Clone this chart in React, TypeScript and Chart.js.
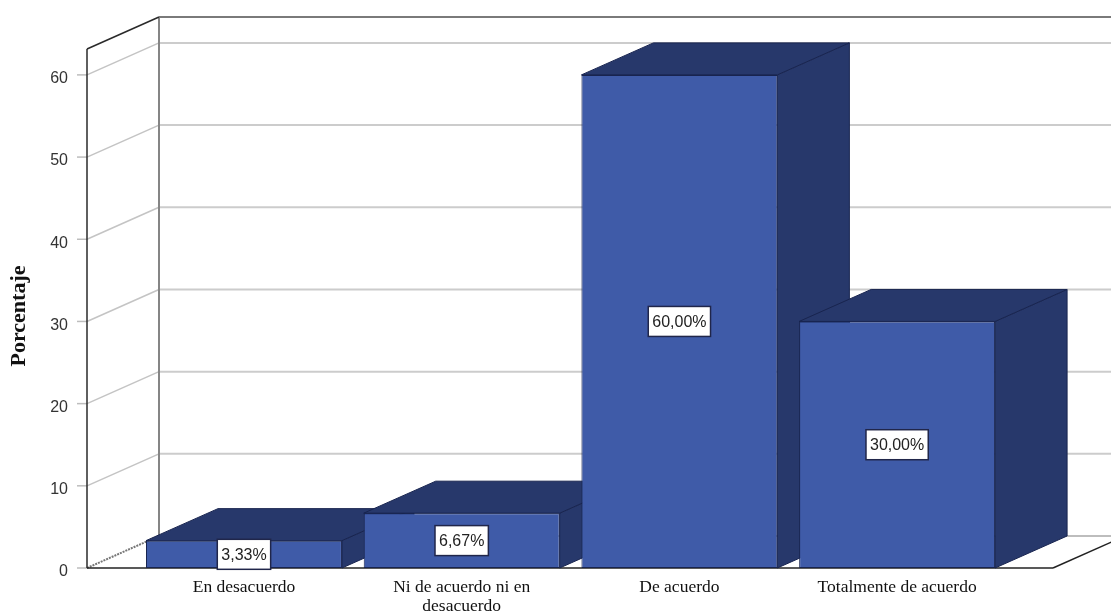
import React, { useEffect, useRef } from "react";
import { Chart, registerables } from "chart.js";

Chart.register(...registerables);

const categories: string[][] = [
  ["En desacuerdo"],
  ["Ni de acuerdo ni en", "desacuerdo"],
  ["De acuerdo"],
  ["Totalmente de acuerdo"],
];
const values: number[] = [3.33, 6.67, 60, 30];
const yTicks: number[] = [0, 10, 20, 30, 40, 50, 60];
const yTitle = "Porcentaje";

const FRONT = "#3f5ba8";
const DARK = "#27386b";
const EDGE = "#18244f";
const DX = 72;
const DY = -32;

function poly(ctx: CanvasRenderingContext2D, pts: number[][], fill: string, stroke: string) {
  ctx.beginPath();
  pts.forEach((p, i) => (i ? ctx.lineTo(p[0], p[1]) : ctx.moveTo(p[0], p[1])));
  ctx.closePath();
  ctx.fillStyle = fill;
  ctx.fill();
  ctx.lineWidth = 1;
  ctx.strokeStyle = stroke;
  ctx.stroke();
}

function seg(ctx: CanvasRenderingContext2D, x1: number, y1: number, x2: number, y2: number, color: string, w: number, dash: number[] = []) {
  ctx.beginPath();
  ctx.setLineDash(dash);
  ctx.moveTo(x1, y1);
  ctx.lineTo(x2, y2);
  ctx.strokeStyle = color;
  ctx.lineWidth = w;
  ctx.stroke();
  ctx.setLineDash([]);
}

const box3d = {
  id: "box3d",
  beforeDatasetsDraw(chart: any) {
    const { ctx, chartArea: a, scales, width } = chart;
    const y = scales.y;
    const bottom = y.getPixelForValue(0);
    ctx.save();
    // walls and gridlines
    yTicks.forEach((t) => {
      const py = y.getPixelForValue(t);
      seg(ctx, a.left - 10, py, a.left, py, "#bdbdbd", 1.5);
      if (t === 0) {
        seg(ctx, a.left, py, a.left + DX, py + DY, "#777777", 2, [2, 1]);
        seg(ctx, a.left + DX, py + DY, width, py + DY, "#bdbdbd", 2);
      } else {
        seg(ctx, a.left, py, a.left + DX, py + DY, "#c4c4c4", 1.5);
        seg(ctx, a.left + DX, py + DY, width, py + DY, "#cccccc", 2);
      }
    });
    seg(ctx, a.left + DX, a.top + DY, width, a.top + DY, "#7a7a7a", 2);
    seg(ctx, a.left + DX, a.top + DY, a.left + DX, bottom + DY, "#858585", 2);
    seg(ctx, a.left, a.top, a.left + DX, a.top + DY, "#2a2a2a", 1.5);
    seg(ctx, a.left, a.top, a.left, bottom, "#2a2a2a", 1.5);
    seg(ctx, a.right, bottom, a.right + DX, bottom + DY, "#222222", 1.5);
    seg(ctx, a.left, bottom, a.right, bottom, "#222222", 1.5);
    // side and top faces, left to right
    chart.getDatasetMeta(0).data.forEach((b: any) => {
      const l = b.x - b.width / 2;
      const r = b.x + b.width / 2;
      const t = b.y;
      const f = b.base;
      poly(ctx, [[r, t], [r + DX, t + DY], [r + DX, f + DY], [r, f]], DARK, EDGE);
      poly(ctx, [[l, t], [l + DX, t + DY], [r + DX, t + DY], [r, t]], DARK, EDGE);
    });
    ctx.restore();
  },
  afterDatasetsDraw(chart: any) {
    const { ctx } = chart;
    ctx.save();
    ctx.font = "16px 'Liberation Sans'";
    ctx.textAlign = "center";
    ctx.textBaseline = "middle";
    chart.getDatasetMeta(0).data.forEach((b: any, i: number) => {
      const text = values[i].toFixed(2).replace(".", ",") + "%";
      const w = ctx.measureText(text).width + 8;
      const h = 30;
      const cy = (b.y + b.base) / 2;
      ctx.fillStyle = "#ffffff";
      ctx.fillRect(b.x - w / 2, cy - h / 2, w, h);
      ctx.strokeStyle = "#20264a";
      ctx.lineWidth = 1.5;
      ctx.strokeRect(b.x - w / 2, cy - h / 2, w, h);
      ctx.fillStyle = "#222222";
      ctx.fillText(text, b.x, cy + 1);
    });
    // axis title
    ctx.translate(19, 316);
    ctx.rotate(-Math.PI / 2);
    ctx.font = "bold 22px 'Liberation Serif'";
    ctx.fillStyle = "#111111";
    ctx.fillText(yTitle, 0, 0);
    ctx.restore();
  },
};

export default function App() {
  const ref = useRef<HTMLCanvasElement>(null);
  useEffect(() => {
    const chart = new Chart(ref.current as HTMLCanvasElement, {
      type: "bar",
      data: {
        labels: categories.map((c) => c.join(" ")),
        datasets: [
          {
            data: values.map((v, i) => ({ x: i, y: v })),
            backgroundColor: FRONT,
            borderColor: EDGE,
            borderWidth: 1,
            borderSkipped: false,
            inflateAmount: 0,
            barPercentage: 0.9,
            categoryPercentage: 1,
          } as any,
        ],
      },
      options: {
        responsive: false,
        animation: false,
        layout: { padding: { top: 49, right: 58, left: 0, bottom: 0 } },
        plugins: { legend: { display: false }, tooltip: { enabled: false } },
        scales: {
          x: {
            type: "linear",
            offset: false,
            min: -0.721,
            max: 3.716,
            grid: { display: false, drawTicks: false, offset: false },
            border: { display: false },
            afterBuildTicks: (s: any) => {
              s.ticks = categories.map((_, i) => ({ value: i }));
            },
            afterFit: (s: any) => {
              s.height = 47;
            },
            ticks: {
              autoSkip: false,
              maxRotation: 0,
              padding: 10,
              color: "#111111",
              font: { family: "'Liberation Serif'", size: 17.5, lineHeight: 1.1 },
              callback: (v: any) => categories[v as number] ?? "",
            },
          },
          y: {
            type: "linear",
            min: 0,
            max: 63.15,
            grid: { display: false, drawTicks: false },
            border: { display: false },
            afterFit: (s: any) => {
              s.width = 87;
            },
            ticks: {
              stepSize: 10,
              includeBounds: false,
              padding: 19,
              labelOffset: 4,
              color: "#333333",
              font: { family: "'Liberation Sans'", size: 16 },
            },
          },
        },
      } as any,
      plugins: [box3d],
    });
    return () => chart.destroy();
  }, []);
  return (
    <div style={{ position: "fixed", left: 0, top: 0, width: 1111, height: 615, background: "#ffffff" }}>
      <canvas ref={ref} width={1111} height={615} style={{ display: "block", filter: "blur(0.4px)" }} />
    </div>
  );
}
